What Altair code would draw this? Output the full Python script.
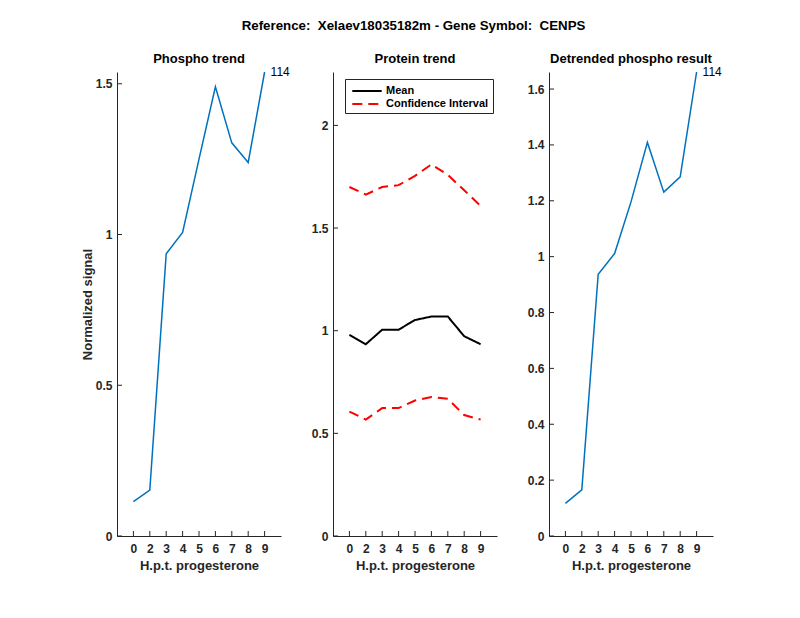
import altair as alt
import pandas as pd

# ---- data ----
hours = ["0", "2", "3", "4", "5", "6", "7", "8", "9"]
phospho = [0.114, 0.152, 0.936, 1.007, 1.250, 1.490, 1.304, 1.239, 1.539]
prot_mean = [0.980, 0.934, 1.005, 1.005, 1.052, 1.069, 1.069, 0.973, 0.934]
prot_upper = [1.700, 1.663, 1.700, 1.709, 1.754, 1.810, 1.759, 1.684, 1.608]
prot_lower = [0.606, 0.567, 0.623, 0.623, 0.660, 0.677, 0.668, 0.589, 0.567]
detrended = [0.117, 0.165, 0.937, 1.011, 1.196, 1.409, 1.231, 1.286, 1.661]
peptide_label = "114"

ticks_p1 = [0, 0.5, 1, 1.5]
ticks_p2 = [0, 0.5, 1, 1.5, 2]
ticks_p3 = [0, 0.2, 0.4, 0.6, 0.8, 1.0, 1.2, 1.4, 1.6]
ylim_p2 = 2.26

main_title = "Reference: \u00a0Xelaev18035182m - Gene Symbol: \u00a0CENPS"
xtitle = "H.p.t. progesterone"

W, H = 164, 464
AX = "#262626"
FONT = "Liberation Sans"
BLUE = "#0072BD"


def xenc():
    return alt.X(
        "hour:O",
        sort=hours,
        scale=alt.Scale(type="point", padding=1, domain=hours),
        axis=alt.Axis(title=xtitle, labelAngle=0),
    )


def yenc(domain, values, title):
    return alt.Y(
        "value:Q",
        scale=alt.Scale(domain=domain, nice=False, zero=True),
        axis=alt.Axis(values=values, format=".1~f", title=title),
    )


def tick_layers(domain, values, ytitle):
    xt = alt.Chart(pd.DataFrame({"hour": hours})).mark_rule(color=AX, strokeWidth=1).encode(
        x=xenc(), y=alt.value(H), y2=alt.value(H - 5)
    )
    yt = alt.Chart(pd.DataFrame({"value": values})).mark_rule(color=AX, strokeWidth=1).encode(
        y=yenc(domain, values, ytitle), x=alt.value(0), x2=alt.value(5)
    )
    return [xt, yt]


def panel_title(t, off):
    return alt.TitleParams(t, frame="group", anchor="middle", offset=off)


def trend_panel(vals, ticks, title, ytitle=None):
    df = pd.DataFrame({"hour": hours, "value": vals})
    dom = [0, max(vals)]
    line = alt.Chart(df).mark_line(color=BLUE, strokeWidth=1.5).encode(
        x=xenc(), y=yenc(dom, ticks, ytitle)
    )
    lab = alt.Chart(df.tail(1).assign(txt=peptide_label)).mark_text(
        align="left", baseline="middle", dx=6, fontSize=12, font=FONT, color="#000000"
    ).encode(x=xenc(), y=yenc(dom, ticks, ytitle), text="txt:N")
    return alt.layer(line, lab, *tick_layers(dom, ticks, ytitle)).properties(
        width=W, height=H, title=panel_title(title, 0)
    )


p1 = trend_panel(phospho, ticks_p1, "Phospho trend", "Normalized signal")
p3 = trend_panel(detrended, ticks_p3, "Detrended phospho result")

rows = []
for h, m, u, l in zip(hours, prot_mean, prot_upper, prot_lower):
    rows.append({"hour": h, "value": m, "series": "Mean", "line": "mean"})
    rows.append({"hour": h, "value": u, "series": "Confidence Interval", "line": "upper"})
    rows.append({"hour": h, "value": l, "series": "Confidence Interval", "line": "lower"})
pdf = pd.DataFrame(rows)
series_dom = ["Mean", "Confidence Interval"]
leg = dict(
    title=None, orient="none", legendX=12, legendY=7, symbolType="M-2.1,0H2.1",
    symbolStrokeWidth=2, symbolSize=196, symbolFillColor="transparent",
    labelFont=FONT, labelFontSize=11,
    labelFontWeight="bold", labelColor="#000000", strokeColor=AX, fillColor="white",
    padding=4, rowPadding=-1, labelOffset=11, symbolOffset=10,
)
dom2 = [0, ylim_p2]
prot = alt.Chart(pdf).mark_line(strokeWidth=2).encode(
    x=xenc(),
    y=yenc(dom2, ticks_p2, None),
    color=alt.Color("series:N", scale=alt.Scale(domain=series_dom, range=["#000000", "#FF0000"]),
                    legend=alt.Legend(**leg)),
    strokeDash=alt.StrokeDash("series:N", scale=alt.Scale(domain=series_dom, range=[[1, 0], [10, 6]]),
                              legend=alt.Legend(**leg)),
    detail="line:N",
)
p2 = alt.layer(prot, *tick_layers(dom2, ticks_p2, None)).properties(
    width=W, height=H, title=panel_title("Protein trend", 6))

chart = alt.hconcat(p1, p2, p3, spacing=52, bounds="flush").resolve_scale(
    x="independent", y="independent", color="independent", strokeDash="independent"
).resolve_legend(color="independent", strokeDash="independent").properties(
    title=alt.TitleParams(main_title, anchor="middle", fontSize=13.3, font=FONT,
                          fontWeight="bold", color="#000000", offset=21, dx=12),
    padding={"left": 73, "top": 10, "right": 10, "bottom": 10},
).configure_view(stroke=None).configure_axis(
    domainColor=AX, domainWidth=1, labelColor=AX, labelFont=FONT, labelFontSize=12,
    labelFontWeight="bold", titleFont=FONT, titleFontSize=13, titleFontWeight="bold",
    titleColor=AX, ticks=False, grid=False, labelPadding=5,
).configure_axisX(labelPadding=7, titlePadding=5).configure_axisY(titlePadding=1).configure_title(
    font=FONT, fontSize=13, fontWeight="bold", color="#000000", offset=7
)

chart.save("out.html", embed_options={"renderer": "svg", "actions": False})
